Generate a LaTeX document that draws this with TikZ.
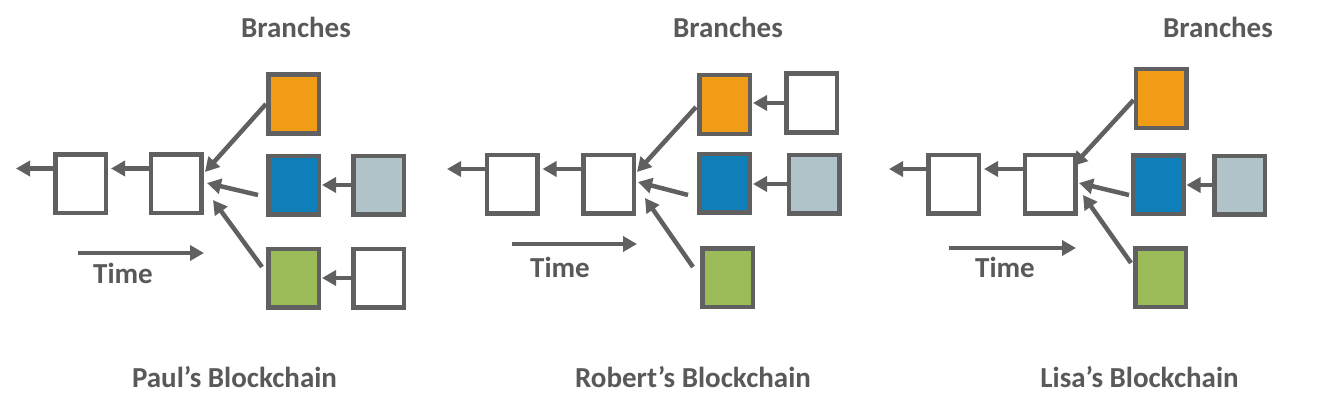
\documentclass[tikz,border=0pt]{standalone}
\usepackage{fontspec}
\setmainfont{Carlito}
\usetikzlibrary{arrows.meta}
\definecolor{ln}{HTML}{606060}
\definecolor{txt}{HTML}{595959}
\definecolor{cOr}{HTML}{F09C16}
\definecolor{cBl}{HTML}{0E7FB8}
\definecolor{cGy}{HTML}{B0C3C9}
\definecolor{cGr}{HTML}{9BBB59}
\begin{document}
\begin{tikzpicture}[x=1pt,y=-1pt,
 blk/.style={draw=ln,line width=4.5pt,minimum width=50.5pt,minimum height=58.5pt,inner sep=0pt,fill=white},
 conn/.style={draw=ln,line width=4.5pt,-{Triangle[length=14pt,width=15pt]}},
 lbl/.style={text=txt,font=\bfseries\fontsize{29}{31}\selectfont,inner sep=0pt}]
\useasboundingbox[fill=white] (0,0) rectangle (1325,412);

% ---------- Paul ----------
\node[blk] (pA1) at (80.5,183.5) {};
\node[blk] (pA2) at (176,183.5) {};
\node[blk,fill=cOr] (pO) at (293.5,104) {};
\node[blk,fill=cBl] (pB) at (293.5,185) {};
\node[blk,fill=cGr] (pG) at (293.5,278) {};
\node[blk,fill=cGy] (pS) at (378.5,185) {};
\node[blk] (pW) at (378.5,278) {};
\coordinate (pEnd) at (16,168.5);
\draw[conn] ([yshift=15pt]pA1.west) -- (pEnd);
\draw[conn] ([yshift=15pt]pA2.west) -- ([xshift=3pt,yshift=15pt]pA1.east);
\draw[conn] (pS.west) -- ([xshift=1pt]pS.west -| pB.east);
\draw[conn] (pW.west) -- ([xshift=1pt]pW.west -| pG.east);
\draw[conn] (pO.west) -- ([xshift=1.5pt,yshift=11.5pt]pA2.east);
\draw[conn] ([xshift=-8pt,yshift=-10pt]pB.west) -- ([xshift=3.5pt,yshift=0.5pt]pA2.east);
\draw[conn] ([xshift=-4pt,yshift=11pt]pG.west) -- ([xshift=9.5pt,yshift=-16.5pt]pA2.east);
\coordinate (pT0) at (78,253);
\coordinate (pT1) at (204,253);
\draw[conn] (pT0) -- (pT1);
\node[lbl] (pTime) at (123,273) {Time};
\node[lbl] (pBr) at (296,27) {Branches};
\node[lbl] (pName) at (234.5,377) {Paul’s Blockchain};

% ---------- Robert ----------
\node[blk] (rA1) at (512,184) {};
\node[blk] (rA2) at (608.5,184) {};
\node[blk,fill=cOr] (rO) at (724.5,104.5) {};
\node[blk] (rOW) at (811.5,103) {};
\node[blk,fill=cBl] (rB) at (724.5,183) {};
\node[blk,fill=cGy] (rS) at (814,184) {};
\node[blk,fill=cGr] (rG) at (727.5,277.5) {};
\coordinate (rEnd) at (447,169);
\draw[conn] ([yshift=15pt]rA1.west) -- (rEnd);
\draw[conn] ([yshift=15pt]rA2.west) -- ([xshift=3pt,yshift=15pt]rA1.east);
\draw[conn] (rOW.west) -- ([xshift=1pt]rOW.west -| rO.east);
\draw[conn] (rS.west) -- ([xshift=1pt]rS.west -| rB.east);
\draw[conn] ([xshift=-1pt,yshift=-2.5pt]rO.west) -- ([xshift=1pt,yshift=12pt]rA2.east);
\draw[conn] ([xshift=-9pt,yshift=-12pt]rB.west) -- ([xshift=2pt,yshift=2pt]rA2.east);
\draw[conn] ([xshift=-7pt,yshift=10.5pt]rG.west) -- ([xshift=9pt,yshift=-14pt]rA2.east);
\coordinate (rT0) at (512,244);
\coordinate (rT1) at (637,244);
\draw[conn] (rT0) -- (rT1);
\node[lbl] (rTime) at (560,267) {Time};
\node[lbl] (rBr) at (728,27) {Branches};
\node[lbl] (rName) at (693,377) {Robert’s Blockchain};

% ---------- Lisa ----------
\node[blk] (lA1) at (953.5,184) {};
\node[blk] (lA2) at (1050,184) {};
\node[blk,fill=cOr] (lO) at (1161,98.5) {};
\node[blk,fill=cBl] (lB) at (1158,184.5) {};
\node[blk,fill=cGy] (lS) at (1239.5,185) {};
\node[blk,fill=cGr] (lG) at (1160.5,277.5) {};
\coordinate (lEnd) at (889,169);
\draw[conn] ([yshift=15pt]lA1.west) -- (lEnd);
\draw[conn] ([yshift=15pt]lA2.west) -- ([xshift=3pt,yshift=15pt]lA1.east);
\draw[conn] (lS.west) -- ([xshift=1pt]lS.west -| lB.east);
\draw[conn] ([yshift=-1.5pt]lO.west) -- ([xshift=-4.5pt,yshift=18pt]lA2.east);
\draw[conn] ([xshift=-1.5pt,yshift=-10.5pt]lB.west) -- ([xshift=1.5pt,yshift=1pt]lA2.east);
\draw[conn] ([xshift=-2pt,yshift=14.5pt]lG.west) -- ([xshift=5.5pt,yshift=-11pt]lA2.east);
\coordinate (lT0) at (949,248);
\coordinate (lT1) at (1076,248);
\draw[conn] (lT0) -- (lT1);
\node[lbl] (lTime) at (1005,267) {Time};
\node[lbl] (lBr) at (1218,27) {Branches};
\node[lbl] (lName) at (1139.5,377) {Lisa’s Blockchain};
\end{tikzpicture}
\end{document}
